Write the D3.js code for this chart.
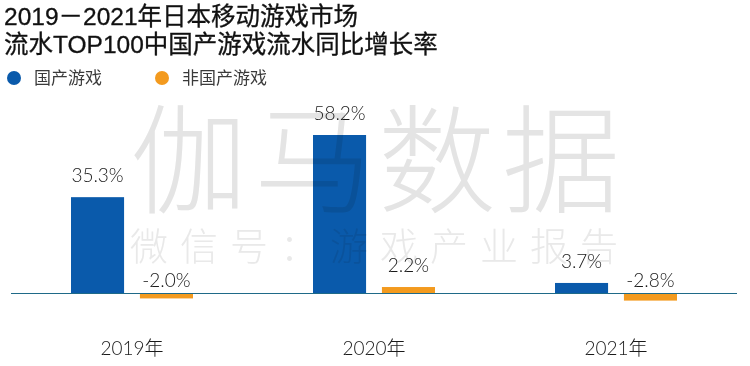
<!DOCTYPE html>
<html><head><meta charset="utf-8">
<script src="https://cdn.jsdelivr.net/npm/d3@7"></script>
<style>body{margin:0;background:#fff;}svg{display:block;}</style>
</head><body>
<svg id="c" width="750" height="366"></svg>
<script>
const titleLines = ["2019－2021年日本移动游戏市场", "流水TOP100中国产游戏流水同比增长率"];
const categories = ["2019年", "2020年", "2021年"];
const seriesNames = ["国产游戏", "非国产游戏"];
const domestic = [35.3, 58.2, 3.7];
const foreign = [-2.0, 2.2, -2.8];
const colors = ["#0a5aab", "#f39a1e"];

const svg = d3.select("#c");
const cjk = "'Noto Sans CJK SC', sans-serif";
const titleFont = "'Liberation Sans', 'Noto Sans CJK SC', sans-serif";
const num = "Lato, 'Noto Sans CJK SC', sans-serif";

// watermark layer (drawn first, bars multiply-blended later)
const wm = svg.append("g").attr("pointer-events", "none");
wm.append("text").attr("x", 378).attr("y", 204).attr("text-anchor", "middle")
  .attr("font-family", cjk).attr("font-size", 118).attr("font-weight", 300)
  .attr("letter-spacing", 6).attr("fill", "#e4e4e4").text("伽马数据");
wm.append("text").attr("x", 380).attr("y", 260).attr("text-anchor", "middle")
  .attr("font-family", cjk).attr("font-size", 38).attr("font-weight", 300)
  .attr("letter-spacing", 12).attr("fill", "#e9e9e9").text("微信号：游戏产业报告");

// title
svg.selectAll("text.title").data(titleLines).join("text")
  .attr("x", 4).attr("y", (d, i) => 25 + i * 28)
  .attr("font-family", titleFont).attr("font-size", 24.5)
  .attr("fill", "#111").attr("stroke", "#111").attr("stroke-width", 0.3)
  .text(d => d);

// legend
const legX = [14, 162];
const leg = svg.selectAll("g.leg").data(seriesNames).join("g")
  .attr("transform", (d, i) => `translate(${legX[i]},78)`);
leg.append("circle").attr("r", 7).attr("fill", (d, i) => colors[i]);
leg.append("text").attr("x", 20).attr("y", 6)
  .attr("font-family", cjk).attr("font-size", 17).attr("fill", "#3a3a3a").text(d => d);

// scales
const x0 = d3.scaleBand().domain(categories).range([11, 737]);
const x1 = d3.scaleBand().domain(seriesNames).range([0, 122]).paddingInner(0.23);
const y = d3.scaleLinear().domain([0, 58.2]).range([293, 135]);

const rows = categories.map((c, i) => ({cat: c, vals: [domestic[i], foreign[i]]}));

const g = svg.append("g");
const grp = g.selectAll("g.grp").data(rows).join("g")
  .attr("transform", d => `translate(${x0(d.cat) + (x0.bandwidth() - 122) / 2},0)`);

grp.selectAll("rect").data(d => d.vals.map((v, i) => ({v, s: seriesNames[i], i})))
  .join("rect")
  .attr("x", d => x1(d.s)).attr("width", x1.bandwidth())
  .attr("y", d => Math.min(y(d.v), y(0)))
  .attr("height", d => Math.abs(y(d.v) - y(0)))
  .attr("fill", d => colors[d.i])
  .style("mix-blend-mode", "multiply");

grp.selectAll("text.lbl").data(d => d.vals.map((v, i) => ({v, s: seriesNames[i], i})))
  .join("text").attr("class", "lbl")
  .attr("x", d => x1(d.s) + x1.bandwidth() / 2)
  .attr("y", d => d.v >= 0 ? y(d.v) - 15 : y(0) - 6)
  .attr("text-anchor", "middle")
  .attr("font-family", num).attr("font-size", 19).attr("font-weight", 300).attr("fill", "#1a1a1a")
  .text(d => d3.format(".1f")(d.v).replace("−", "-") + "%");

// baseline
g.append("line").attr("x1", 11).attr("x2", 737).attr("y1", y(0) + 0.5).attr("y2", y(0) + 0.5)
  .attr("stroke", "#1f6a88").attr("stroke-width", 1);

// category axis
const ax = svg.append("g").attr("transform", "translate(0,336)")
  .call(d3.axisBottom(x0).tickSize(0).tickPadding(0));
ax.select(".domain").remove();
ax.selectAll("text").attr("font-family", num).attr("font-size", 19).attr("font-weight", 300)
  .attr("fill", "#1a1a1a").attr("dy", "1em");
</script>
</body></html>
